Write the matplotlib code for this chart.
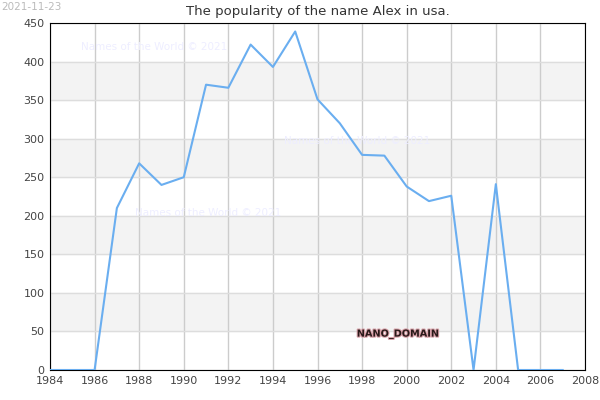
import matplotlib
matplotlib.use("Agg")
import matplotlib.pyplot as plt
import matplotlib.patheffects as pe

years = list(range(1984, 2008))
values = [0, 0, 0, 210, 268, 240, 250, 370, 366, 422, 393, 439, 351, 320, 279, 278, 238, 219, 226, 0, 241, 0, 0, 0]
xticks = list(range(1984, 2009, 2))
yticks = list(range(0, 451, 50))

fig = plt.figure(figsize=(6, 4), dpi=100)
ax = fig.add_axes([50/600, 30/400, 535/600, 347/400])
for lo in (50, 150, 250, 350):
    ax.axhspan(lo, lo + 50, color="#f3f3f3", zorder=0)
ax.set_xlim(1984, 2008)
ax.set_ylim(0, 450)
ax.set_xticks(xticks)
ax.set_yticks(yticks)
ax.grid(True, color="#cccccc", linewidth=1)
ax.yaxis.grid(True, color="#dddddd")
ax.set_axisbelow(True)
ax.plot(years, values, color="#6aaef0", linewidth=1.5, zorder=3)
ax.tick_params(length=0, labelsize=8, colors="#444444", pad=4)
for s in ax.spines.values():
    s.set_color("black")
ax.set_title("The popularity of the name Alex in usa.", fontsize=9.5, color="#333333", pad=6)
fig.text(0.002, 0.995, "2021-11-23", fontsize=7.5, color="#bbbbbb", va="top")
for (x, y) in [(1985.4, 415), (1994.5, 293), (1987.8, 200)]:
    ax.text(x, y, "Names of the World © 2021", fontsize=7.5, color="#eeeeff", zorder=1)
ax.text(1999.6, 47, "NANO_DOMAIN", fontsize=7, color="#2a1a1a", ha="center", va="center",
        fontweight="bold",
        path_effects=[pe.withStroke(linewidth=1.5, foreground="#d8a0a8")], zorder=4)
fig.savefig("out.png")
